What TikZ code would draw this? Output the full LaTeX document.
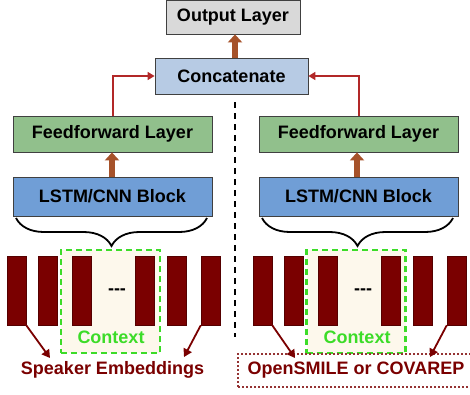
\documentclass[tikz,border=0pt]{standalone}
\usepackage{fontspec}
\setmainfont{Liberation Sans}
\usetikzlibrary{arrows,arrows.meta,positioning,decorations.pathreplacing}
\definecolor{capagris}{RGB}{217,217,217}
\definecolor{capaazul}{RGB}{183,203,228}
\definecolor{capaverde}{RGB}{145,192,140}
\definecolor{bloqueazul}{RGB}{112,158,214}
\definecolor{flechacafe}{RGB}{166,82,42}
\definecolor{flecharoja}{RGB}{178,40,40}
\definecolor{barra}{RGB}{122,0,0}
\definecolor{crema}{RGB}{253,248,236}
\definecolor{verdectx}{RGB}{60,220,40}
\tikzstyle{capa} = [draw=black!75, thick, rectangle, font=\fontsize{18}{20}\selectfont\bfseries, inner sep=0pt]
\tikzstyle{gruesa} = [line width=6pt, flechacafe, -{Triangle[width=14pt,length=8pt]}]
\tikzstyle{delgada} = [line width=1.6pt, flecharoja, -{Triangle[width=8pt,length=7pt]}]
\tikzstyle{barrita} = [fill=barra, draw=barra!70!black, minimum width=19pt, minimum height=69pt, inner sep=0pt]
\tikzstyle{contexto} = [draw=verdectx, fill=crema, dash pattern=on 6pt off 4pt, line width=2.4pt, minimum width=99pt, minimum height=103pt]
\tikzstyle{etiqueta} = [text=barra, font=\fontsize{18}{20}\selectfont\bfseries]
\tikzstyle{apunta} = [line width=1.8pt, barra, -{Triangle[width=9pt,length=8pt]}]
\tikzstyle{llave} = [line width=1.8pt, decorate, decoration={brace, amplitude=28pt, mirror}]
\begin{document}
\begin{tikzpicture}[x=1pt,y=-1pt]
\useasboundingbox (0,0) rectangle (470,394);
% capas superiores
\node[capa, fill=capagris, minimum width=134pt, minimum height=34pt] (salida) at (233,17) {Output Layer};
\node[capa, fill=capaazul, minimum width=153pt, minimum height=36pt] (concat) at (231.5,76) {Concatenate};
\draw[gruesa] (concat.north -| 235,0) -- (salida.south -| 235,0);
\foreach \lado/\cx/\bx in {izq/112.5/112, der/358.5/357}{
  \node[capa, fill=capaverde, minimum width=199pt, minimum height=36pt] (ff\lado) at (\cx,134) {Feedforward Layer};
  \node[capa, fill=bloqueazul, minimum width=199pt, minimum height=39pt] (lstm\lado) at (\cx,196.5) {LSTM/CNN Block};
  \draw[gruesa] (lstm\lado.north -| \bx,0) -- (ff\lado.south -| \bx,0);
}
\draw[delgada] (ffizq.north -| 113,0) |- (concat.west);
\draw[delgada] (ffder.north -| 359,0) |- (concat.east);
% llaves
\draw[llave] (16,218) -- (207,218);
\draw[llave] (262,218) -- (453,218);
% separador
\draw[line width=2.6pt, dash pattern=on 6pt off 5pt] (235,102) -- (235,337);
% contexto y barras
\node[contexto] (ctxizq) at (110.5,301.5) {};
\node[contexto] (ctxder) at (356,301.5) {};
\foreach \x [count=\i] in {16.5,47.5,82,144.5,176.5,210.5}{
  \node[barrita] (bi\i) at (\x,290.5) {};
}
\foreach \x [count=\i] in {262.5,293.5,327.5,390.5,422.5,456.5}{
  \node[barrita] (bd\i) at (\x,290.5) {};
}
\node[font=\fontsize{18}{20}\selectfont\bfseries] (puntosizq) at (117,292) {{-}{-}{-}};
\node[font=\fontsize{18}{20}\selectfont\bfseries] (puntosder) at (363,292) {{-}{-}{-}};
\node[font=\fontsize{18}{20}\selectfont\bfseries, text=verdectx] (txtizq) at (111,337) {Context};
\node[font=\fontsize{18}{20}\selectfont\bfseries, text=verdectx] (txtder) at (357,337) {Context};
% etiquetas de entrada
\node[etiqueta] (hablante) at (112.5,370) {Speaker Embeddings};
\node[etiqueta, draw=barra!80, dash pattern=on 2pt off 2pt, line width=1.2pt, minimum width=236pt, minimum height=33pt, inner sep=0pt] (acustica) at (356,370.5) {OpenSMILE or COVAREP};
\coordinate (hi1) at (50,358);
\coordinate (hi2) at (184,357);
\coordinate (hd1) at (295,358);
\coordinate (hd2) at (430,357);
\draw[apunta] (bi1.south east) -- (hi1);
\draw[apunta] (bi6.south west) -- (hi2);
\draw[apunta] (bd1.south east) -- (hd1);
\draw[apunta] (bd6.south west) -- (hd2);
\end{tikzpicture}
\end{document}
